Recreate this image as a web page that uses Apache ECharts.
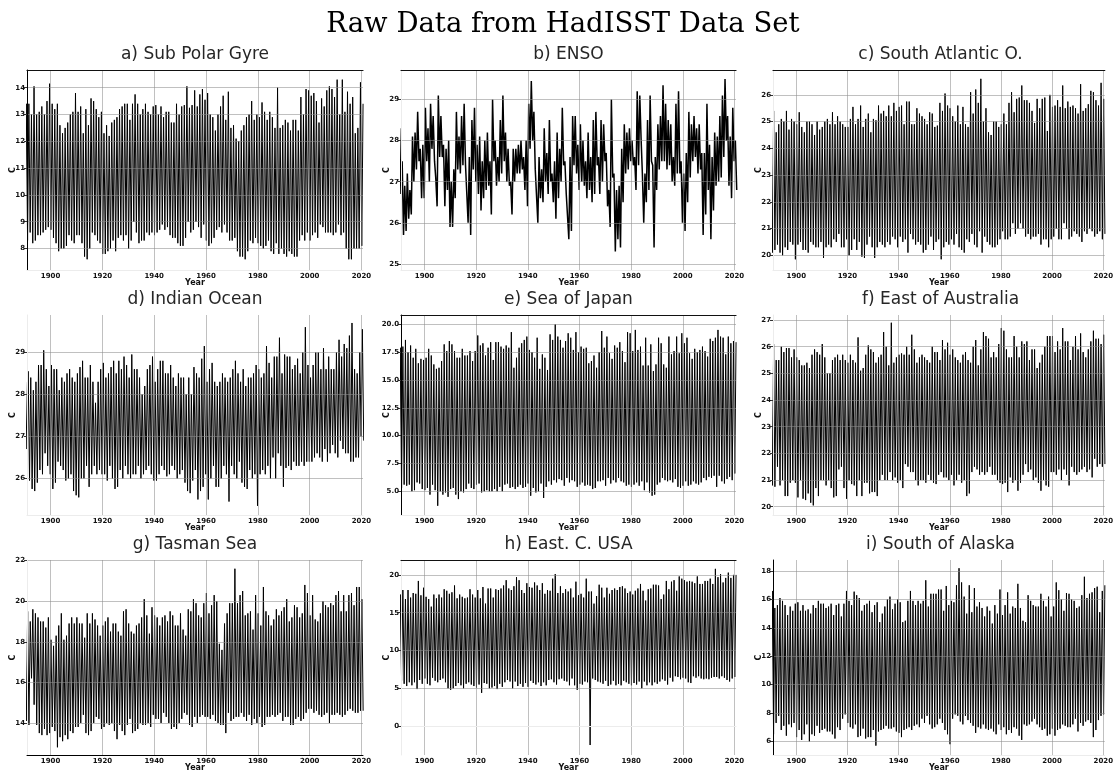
<!DOCTYPE html>
<html>
<head>
<meta charset="utf-8">
<script src="https://cdn.jsdelivr.net/npm/echarts@6/dist/echarts.min.js"></script>
<style>
html,body{margin:0;padding:0;background:#fff;}
#chart{width:1116px;height:773px;}
</style>
</head>
<body>
<div id="chart"></div>
<script>
// ---------- DATA (annual peak / trough values, 1890..2020) ----------
const YEAR0 = 1890;
const xTicks = [1900, 1920, 1940, 1960, 1980, 2000, 2020];

const subPolarHi = [13.4,13.4,13.0,14.05,13.0,13.1,13.3,13.0,13.5,14.15,
13.4,13.2,13.4,12.6,12.3,12.5,12.7,13.0,13.1,13.8,
13.1,13.3,12.3,13.2,12.6,13.6,13.5,13.2,12.9,13.1,
12.3,12.6,12.2,12.7,12.8,12.9,13.2,13.3,13.4,13.4,
12.8,13.4,13.75,13.4,13.0,13.2,13.4,13.1,13.0,13.3,
13.35,13.0,13.3,12.9,13.1,13.1,12.7,12.7,13.4,13.0,
13.3,13.35,14.05,13.25,13.35,13.9,13.3,13.75,13.95,13.55,
13.8,13.0,12.9,12.4,13.0,13.3,13.7,12.8,13.85,12.5,
12.6,12.1,12.0,12.4,12.6,12.9,13.0,13.5,12.8,13.0,
12.9,13.45,13.1,12.8,13.1,12.9,12.5,14.0,12.5,12.6,
12.8,12.7,12.4,12.8,12.8,12.4,13.65,13.0,13.95,13.9,
13.7,13.8,13.5,12.7,13.6,13.3,13.9,14.05,13.95,13.65,
14.3,13.0,14.3,13.1,13.85,13.4,13.65,12.3,12.5,14.2,
13.4];
const subPolarLo = [8.7,8.3,8.6,8.2,8.3,8.5,8.5,8.6,8.7,8.8,
8.7,8.4,8.2,7.9,8.0,8.0,8.1,8.5,8.3,8.2,
8.5,8.5,8.2,7.7,7.6,8.0,8.6,8.5,8.3,8.2,
7.8,7.8,7.9,8.0,8.3,7.9,8.4,8.5,8.3,8.5,
8.0,8.3,9.0,8.6,8.2,8.3,8.3,8.6,8.5,8.6,
8.5,8.6,8.7,8.9,8.7,8.8,8.5,8.4,8.4,8.2,
8.1,8.1,8.4,9.0,8.6,8.7,9.0,8.8,8.4,8.9,
8.3,8.1,8.2,8.4,8.7,8.8,8.6,8.9,8.6,8.3,
8.3,8.4,7.9,7.7,7.7,7.6,7.9,8.3,8.2,8.4,
8.2,8.1,8.0,8.1,8.3,7.9,7.8,8.2,7.8,8.0,
7.8,7.7,7.9,7.8,7.7,7.7,8.3,8.5,8.3,8.6,
8.3,8.5,8.6,8.4,8.9,8.8,8.6,8.6,8.6,8.5,
8.6,8.9,8.5,8.6,8.0,7.6,7.6,8.0,8.0,8.0,
8.1];

const ensoHi = [28.3,27.5,26.9,27.2,26.8,28.1,28.2,28.7,27.8,27.9,
28.8,28.3,28.9,28.6,27.1,29.1,28.6,27.9,27.8,28.0,
27.0,27.3,28.7,28.1,28.6,28.9,27.4,27.6,28.5,28.8,
27.9,28.1,27.5,28.0,28.2,27.5,29.0,28.0,27.6,28.5,
29.1,28.2,27.8,27.0,27.8,27.8,27.9,28.0,27.6,28.0,
28.9,29.45,28.7,27.3,27.6,27.3,28.3,27.7,28.5,27.2,
27.5,28.2,27.8,28.8,27.5,26.7,27.6,28.6,28.6,27.9,
28.4,28.0,27.5,28.2,27.6,28.5,28.7,27.6,28.5,28.4,
27.7,26.8,29.0,27.2,26.8,26.9,27.8,28.4,28.2,28.3,
28.0,27.6,29.2,29.1,27.2,27.2,28.5,29.1,27.4,27.6,
28.4,28.6,29.35,28.9,28.5,28.4,27.6,28.9,29.2,27.5,
27.2,27.7,28.7,28.4,28.6,28.3,28.4,27.7,27.7,28.9,
27.9,27.6,28.2,28.1,28.6,29.1,29.5,28.6,28.1,28.8,
28.0];
const ensoLo = [26.7,25.7,25.8,26.1,26.2,27.0,27.3,27.5,26.6,26.6,
27.5,27.0,27.8,27.5,26.4,27.6,27.6,26.4,26.8,25.9,
25.9,26.6,27.3,27.2,27.4,27.4,26.0,25.7,27.3,27.0,
26.7,26.3,26.6,26.8,26.9,26.2,27.5,26.9,27.0,27.2,
27.5,27.0,26.9,26.2,27.0,27.2,27.2,27.3,26.8,26.4,
27.8,28.0,27.3,26.0,26.6,26.5,27.0,26.7,27.0,26.5,
26.1,26.6,27.0,27.4,26.7,25.6,25.8,27.4,27.2,26.8,
27.0,26.9,26.6,26.8,26.5,26.7,27.4,26.7,27.0,27.5,
26.4,25.9,27.1,25.3,25.6,25.4,26.5,27.2,27.3,27.5,
27.4,26.8,27.4,28.0,26.0,26.5,26.8,27.5,25.4,26.8,
27.3,27.5,27.5,27.3,27.4,27.0,26.9,27.2,27.2,26.0,
25.8,26.5,27.1,27.5,27.6,27.2,27.3,25.7,26.2,26.8,
25.6,26.3,26.9,27.0,27.1,27.6,28.0,26.9,26.6,27.5,
26.8];

const southAtlHi = [25.1,25.4,24.6,24.9,25.1,25.0,25.4,24.7,25.1,25.0,
24.9,25.35,24.8,24.6,25.0,25.0,24.9,24.5,25.0,24.7,
24.8,25.0,25.1,24.9,25.35,24.9,25.2,25.0,24.9,24.8,
24.8,25.1,25.55,24.9,25.1,25.6,24.8,25.1,25.3,24.6,
25.1,25.05,25.6,25.3,25.4,25.2,25.6,25.2,25.7,25.4,
25.55,25.6,24.9,25.75,25.75,24.9,24.9,25.5,25.3,25.2,
25.1,24.9,25.35,25.3,24.8,24.85,25.7,25.4,26.05,25.6,
25.5,25.2,25.0,25.6,24.9,25.55,24.9,24.8,26.1,25.3,
26.2,25.7,26.6,25.0,25.5,24.6,24.5,25.0,25.0,24.8,
24.9,25.3,24.9,25.7,26.1,25.35,25.85,25.9,26.35,25.8,
25.8,25.7,25.4,24.95,25.85,25.5,25.85,25.9,24.65,26.0,
25.55,25.6,25.8,25.55,26.35,25.5,25.75,25.55,25.6,25.5,
25.3,26.4,25.4,25.5,25.65,26.15,26.1,25.8,25.6,26.45,
25.85];
const southAtlLo = [20.1,20.2,20.4,20.1,20.0,20.3,20.2,20.5,20.4,19.85,
20.4,20.5,20.2,20.2,20.1,20.5,20.4,20.3,20.3,20.5,
19.9,20.3,20.4,20.3,20.6,20.5,20.8,20.3,20.3,20.6,
20.0,20.2,20.6,20.2,20.5,19.95,19.9,20.4,20.7,20.3,
19.9,20.3,20.5,20.4,20.3,20.5,20.4,20.7,20.6,20.3,
20.7,20.5,20.6,20.1,20.8,20.6,20.4,20.5,20.4,20.1,
20.2,20.4,20.7,20.2,20.5,20.6,19.85,20.3,20.5,20.4,
20.6,20.4,20.8,20.3,20.2,20.1,20.6,20.5,20.8,20.4,
20.3,20.9,20.1,20.7,20.5,20.4,20.3,20.3,20.4,20.6,
20.9,20.6,20.6,20.7,21.2,20.8,21.0,21.2,21.0,20.7,
20.8,20.6,20.7,20.7,20.8,20.4,20.6,20.6,20.3,20.6,
20.7,21.0,20.6,20.6,21.2,21.0,20.6,20.7,20.9,20.8,
20.7,20.5,20.9,20.8,21.0,20.9,20.7,20.8,20.9,20.6,
20.8];

const indianHi = [28.3,28.55,28.4,28.1,28.3,28.7,28.7,29.05,28.6,28.2,
28.7,28.6,28.6,28.1,28.4,28.3,28.5,28.6,28.4,28.3,
28.5,28.65,28.8,28.4,28.4,28.7,28.3,27.8,28.3,28.6,
28.75,28.4,28.5,28.65,28.8,28.5,28.8,28.6,28.9,28.7,
28.4,28.95,28.6,28.6,28.4,28.0,28.2,28.6,28.7,28.9,
28.3,28.6,28.8,28.8,28.5,28.5,28.7,28.4,28.2,28.5,
28.4,28.4,28.0,28.4,28.0,28.65,28.5,28.4,28.85,29.15,
28.3,28.6,28.75,28.3,28.2,28.3,28.5,28.4,28.3,28.4,
28.6,28.8,28.5,28.3,28.6,28.2,28.4,28.4,28.5,28.7,
28.6,28.4,28.5,29.15,28.75,28.4,28.9,28.9,29.35,28.5,
28.95,28.9,28.9,28.6,28.7,28.85,28.5,29.0,29.6,28.7,
28.4,28.7,29.0,29.0,28.6,29.1,28.6,28.9,28.6,28.6,
29.0,29.3,28.9,29.2,29.1,29.4,29.7,28.6,28.5,29.0,
29.55];
const indianLo = [26.7,25.95,25.75,25.7,25.9,26.2,26.1,26.6,26.3,26.1,
25.75,25.9,26.4,26.3,26.2,25.95,26.0,26.1,25.7,25.6,
25.55,26.0,26.0,26.3,25.8,26.1,26.3,26.1,26.2,26.1,
26.1,25.95,26.3,26.0,25.75,25.8,26.2,26.0,26.3,26.1,
26.0,26.1,26.1,26.3,26.0,26.1,26.2,26.3,26.1,25.95,
25.95,26.1,26.3,26.2,26.05,26.1,26.3,26.2,26.0,26.1,
26.2,25.9,25.7,25.65,25.95,26.2,25.5,25.7,25.8,26.1,
25.5,26.0,26.3,25.8,25.8,26.0,26.3,26.1,25.45,26.3,
26.1,26.0,26.4,25.9,25.8,25.75,26.2,26.0,26.1,25.35,
26.1,26.2,26.1,26.3,26.0,26.5,26.0,26.6,26.3,25.8,
26.25,26.3,26.2,26.4,26.3,26.3,26.4,26.3,26.4,26.4,
26.4,26.5,26.6,26.5,26.4,26.7,26.4,26.6,26.8,26.6,
26.5,26.9,26.7,26.6,26.6,26.4,26.4,26.5,26.5,27.0,
26.9];

const japanHi = [17.9,18.0,18.6,17.5,18.1,17.0,17.8,16.5,16.9,16.8,
17.0,17.8,17.2,16.4,16.0,16.1,16.7,18.2,17.6,18.5,
18.2,17.6,17.0,17.0,17.8,17.2,17.2,17.6,16.7,17.6,
19.0,18.1,18.3,17.2,17.9,18.4,16.8,18.4,18.4,18.0,
17.8,18.1,17.9,19.3,16.1,17.0,17.9,18.3,18.6,18.9,
17.7,17.5,17.0,18.8,16.0,17.3,17.0,15.9,19.1,18.6,
20.0,18.9,18.6,17.9,18.5,19.2,18.8,17.7,19.3,17.5,
18.0,17.8,17.9,16.5,16.7,17.2,16.1,17.5,19.4,17.9,
18.9,17.4,16.9,18.1,17.9,18.4,17.6,16.6,19.3,19.2,
17.6,19.5,17.7,18.0,16.3,18.8,16.3,18.2,15.8,16.4,
18.8,18.3,16.4,16.1,18.9,17.3,17.6,18.9,17.4,19.2,
18.3,18.8,17.4,16.9,17.8,17.5,17.7,18.0,17.6,17.1,
18.7,18.5,18.8,19.5,18.9,18.8,17.3,18.9,18.3,18.5,
18.4];
const japanLo = [5.5,5.3,5.6,5.5,5.6,5.0,5.1,5.8,5.7,5.2,
5.1,5.3,4.7,5.6,5.1,3.7,5.0,4.7,4.9,4.5,
5.2,5.3,4.7,4.3,5.0,4.9,5.2,5.7,5.3,5.2,
5.6,5.7,4.9,5.0,5.1,5.0,5.0,5.2,5.0,5.4,
5.0,5.6,5.7,5.3,5.4,5.2,5.4,5.6,5.3,5.4,
5.7,4.6,5.3,4.9,5.0,5.7,4.4,5.4,5.9,5.6,
6.0,5.8,6.1,6.0,5.5,6.2,5.8,6.0,5.9,5.4,
5.6,5.8,5.5,5.6,5.5,5.2,5.3,5.9,5.9,6.0,
5.5,6.2,5.7,6.0,5.8,6.2,5.9,5.8,5.5,5.6,
5.4,5.6,5.8,5.5,5.9,5.1,5.8,4.9,4.6,4.7,
5.6,5.8,6.2,6.0,5.9,6.0,5.8,6.1,5.4,5.3,
5.5,5.9,5.5,5.6,5.9,5.7,5.6,5.8,6.2,6.0,
6.3,6.2,6.4,5.4,6.4,5.9,5.7,6.1,6.3,6.0,
6.6];

const eastAusHi = [25.7,26.1,25.5,25.5,26.0,25.8,25.95,25.95,25.6,25.9,
25.6,25.5,25.3,25.3,25.4,25.2,25.7,25.9,25.8,25.7,
26.1,25.6,25.0,25.0,25.5,25.6,25.7,25.5,25.7,25.5,
25.4,25.7,25.5,25.4,26.35,25.1,25.2,25.7,26.05,25.9,
25.8,25.4,25.6,25.7,26.55,26.0,25.3,26.9,25.4,25.6,
25.7,25.75,25.7,26.0,25.7,26.45,25.9,25.4,25.6,25.7,
25.6,25.5,25.4,26.0,25.8,25.8,25.5,26.25,25.9,26.15,
25.7,25.9,25.6,25.5,25.4,25.7,25.8,25.5,25.4,26.0,
26.25,25.3,25.9,26.55,26.4,26.3,25.6,25.8,25.6,26.1,
26.7,26.6,25.9,25.6,25.6,26.4,26.0,25.6,26.2,26.1,
26.2,25.5,25.9,25.9,25.2,25.4,25.7,26.0,26.4,26.4,
26.4,25.8,26.2,25.9,26.7,26.2,26.2,25.5,26.0,26.4,
25.9,26.5,25.8,25.6,25.9,26.2,26.6,26.3,26.3,26.1,
26.45];
const eastAusLo = [20.8,20.75,21.5,20.8,21.0,20.4,20.4,20.9,21.0,20.9,
20.35,21.0,20.3,20.25,20.5,20.15,20.05,20.7,20.4,21.0,
21.0,20.8,21.0,20.7,20.35,20.4,21.4,21.5,20.7,20.3,
21.0,20.85,20.8,20.4,21.0,20.4,20.9,20.9,20.5,20.55,
20.55,20.4,21.0,21.2,21.0,21.0,21.3,21.0,21.1,20.9,
21.0,20.7,21.6,21.5,21.3,21.3,21.0,20.8,21.0,21.0,
20.9,21.2,21.0,20.9,20.85,21.2,21.3,21.1,21.1,21.0,
21.2,20.8,21.0,21.2,20.9,21.0,20.4,20.5,21.3,21.5,
21.4,21.2,21.3,21.2,21.3,21.5,21.2,21.2,21.0,20.9,
20.85,20.9,20.55,21.1,20.9,21.0,20.6,20.9,21.2,21.6,
21.3,21.4,21.0,21.1,20.9,20.6,21.0,20.8,20.75,21.3,
21.3,21.2,21.4,21.0,21.4,21.2,20.8,21.5,21.3,21.2,
21.3,21.4,21.5,21.3,21.4,21.1,21.8,21.5,21.6,21.5,
21.6];

const tasmanHi = [18.6,19.5,19.0,19.6,19.4,19.2,19.0,19.0,18.7,19.2,
18.1,17.8,18.3,18.8,19.4,18.1,18.3,18.9,19.2,18.9,
19.2,18.9,18.9,18.2,19.4,18.9,19.4,19.1,18.8,18.3,
18.8,19.0,19.2,18.5,18.9,18.9,18.5,18.3,19.5,19.6,
18.9,18.5,18.4,18.8,18.9,19.2,20.1,19.3,18.4,19.7,
19.3,19.2,18.8,19.2,19.3,19.0,19.5,19.3,18.8,18.8,
19.4,18.6,18.3,19.6,19.5,20.1,19.9,19.3,19.2,19.9,
20.4,19.4,19.8,20.3,20.0,17.9,17.6,18.9,19.4,19.9,
19.9,21.6,19.9,20.3,20.5,19.3,19.4,19.5,18.6,20.3,
19.4,18.8,20.7,19.5,19.3,18.8,19.1,19.6,19.3,19.5,
19.7,20.1,19.0,19.2,19.8,19.7,19.2,19.4,20.8,20.4,
19.3,20.3,19.1,19.0,19.4,20.0,19.8,19.7,19.9,19.8,
20.3,20.5,19.5,20.3,19.5,20.3,20.4,19.8,20.7,20.7,
20.1];
const tasmanLo = [14.1,13.9,16.2,14.9,13.9,13.5,13.4,13.7,13.4,13.5,
13.8,13.6,12.8,13.3,13.1,13.4,13.2,13.6,13.5,13.8,
13.8,14.0,14.4,13.5,13.4,13.6,14.0,14.3,14.2,13.7,
13.8,14.0,13.9,14.0,13.6,13.2,13.9,13.6,13.4,13.9,
14.2,13.5,13.6,13.7,14.0,13.9,13.9,14.0,13.8,14.4,
14.2,14.2,14.0,14.5,14.3,14.0,13.7,13.8,13.7,14.0,
14.2,14.5,14.4,13.9,13.8,14.3,14.0,14.3,14.4,14.3,
14.3,14.2,14.4,14.1,14.0,13.9,13.9,13.5,14.5,14.1,
14.2,14.3,14.3,14.5,14.3,14.1,14.4,13.9,14.2,14.0,
14.3,13.8,13.9,14.3,14.3,14.4,14.3,14.4,14.5,14.1,
14.3,14.3,13.9,13.9,14.2,14.3,14.1,14.2,14.5,14.7,
14.7,14.5,14.6,14.4,14.3,14.4,14.5,14.0,14.4,14.4,
14.5,14.4,14.3,14.4,14.6,14.7,14.6,14.5,14.5,14.6,
14.6];

const eastUsaHi = [17.4,18.0,16.8,18.0,17.0,17.6,17.5,19.2,17.3,18.3,
17.1,16.8,15.8,17.4,16.9,17.4,17.0,18.1,17.9,17.5,
17.7,18.6,16.9,17.4,17.1,16.9,17.0,18.1,17.4,17.0,
18.0,16.9,18.4,16.2,18.2,18.2,17.0,18.1,18.0,18.2,
18.6,19.3,18.2,18.0,18.5,19.7,19.3,18.0,17.6,18.9,
18.4,18.3,19.0,18.6,18.0,18.9,17.5,18.0,17.9,19.5,
20.1,17.6,18.5,17.6,18.1,17.8,18.2,17.0,19.1,17.3,
17.5,17.0,19.5,17.8,17.8,16.2,17.2,18.7,18.3,17.0,
18.3,17.5,18.0,18.2,18.0,18.4,18.5,18.2,17.6,17.8,
17.4,17.9,18.2,18.8,17.9,16.6,18.1,18.2,18.7,18.7,
18.6,16.8,17.4,19.2,18.1,19.1,19.3,17.9,19.8,19.5,
19.3,19.1,19.2,19.1,18.9,19.8,18.8,18.8,19.2,19.2,
19.5,18.8,20.8,19.7,20.1,19.0,19.6,20.3,19.6,20.0,
20.0];
const eastUsaLo = [5.5,6.0,5.6,5.3,5.8,5.4,5.8,4.9,6.1,5.6,
6.3,5.6,5.4,6.4,6.0,5.8,6.1,6.3,5.8,5.0,
4.8,5.0,5.3,5.7,5.4,5.0,5.6,5.8,5.5,5.3,
5.1,5.5,4.4,5.7,5.6,5.0,5.1,5.3,4.9,5.6,
5.2,5.8,6.1,5.9,5.0,5.9,5.3,5.6,5.2,5.7,
5.2,6.0,5.7,5.5,5.8,5.3,5.8,5.4,6.1,6.2,
5.8,5.5,6.2,6.3,6.0,5.9,5.4,6.3,5.4,4.8,
5.6,5.5,5.9,5.8,-2.5,6.3,6.1,5.9,5.8,5.6,
6.0,5.3,5.5,6.0,5.4,5.6,5.4,6.0,5.8,5.6,
5.4,5.7,5.5,5.9,5.0,5.9,5.4,5.8,5.4,5.8,
5.6,5.9,6.2,6.0,5.5,6.4,5.9,6.6,6.5,6.2,
6.4,6.3,5.8,5.7,6.6,6.4,6.6,6.3,6.2,6.3,
6.2,6.4,6.5,6.5,6.3,6.6,6.4,6.1,5.9,6.3,
6.5];

const alaskaHi = [16.6,15.4,15.6,16.1,15.9,15.6,14.9,15.5,15.2,15.7,
15.8,15.2,15.6,15.2,15.3,15.0,15.6,15.4,15.9,15.7,
15.7,15.4,15.5,15.7,14.9,15.6,15.7,14.8,15.7,16.6,
15.9,15.6,16.55,16.3,16.1,15.2,15.6,15.7,15.9,15.1,
15.6,15.8,14.4,15.0,15.5,16.0,16.2,15.3,15.7,16.0,
15.8,14.4,14.5,15.9,16.6,15.9,15.6,15.9,15.7,15.9,
17.35,15.5,16.4,16.4,16.4,16.7,16.7,15.2,16.95,15.6,
15.9,15.8,17.0,18.2,17.2,16.2,15.0,17.0,15.1,16.8,
15.5,15.8,15.4,14.8,15.5,15.2,14.3,15.6,15.0,16.7,
14.9,15.6,16.5,15.0,15.5,15.4,17.1,15.4,14.5,14.4,
16.3,15.9,15.6,15.5,15.5,16.4,15.9,15.5,16.2,14.8,
15.5,17.2,16.65,16.0,15.2,16.45,16.4,16.0,15.9,15.4,
15.5,16.3,17.6,16.1,16.4,16.5,16.8,16.9,15.1,16.6,
17.0];
const alaskaLo = [7.5,6.5,7.3,7.8,6.8,7.1,6.4,7.2,7.0,7.3,
6.3,6.8,6.1,6.5,7.2,6.0,6.5,6.4,7.1,6.6,
6.8,6.9,6.7,6.7,6.5,6.2,7.0,6.8,7.6,7.9,
7.3,7.0,6.9,7.2,6.3,6.4,6.9,6.2,6.3,6.3,
6.8,5.7,6.7,6.8,6.9,7.1,6.9,6.9,7.0,6.7,
6.6,6.3,6.8,6.9,7.0,6.8,7.1,7.2,7.0,7.6,
7.3,7.8,7.2,6.9,7.0,7.2,7.6,7.3,6.8,6.5,
5.8,7.6,7.9,7.8,7.4,7.2,7.8,7.5,7.3,7.1,
6.6,7.0,6.9,7.2,6.9,6.8,6.9,6.7,6.5,7.2,
6.8,7.0,6.5,6.8,6.6,7.0,6.9,6.4,6.1,7.2,
7.1,7.2,7.4,7.6,7.2,7.0,6.8,6.9,6.4,6.5,
6.9,6.4,6.8,6.9,7.2,7.1,7.0,7.0,7.2,7.6,
6.7,7.3,7.1,7.4,7.5,7.3,6.3,6.8,7.5,7.8,
7.9];

// tick labels per panel
const ticksA = [8,9,10,11,12,13,14];
const ticksB = [25,26,27,28,29];
const ticksC = [20,21,22,23,24,25,26];
const ticksD = [26,27,28,29];
const ticksE = [5,7.5,10,12.5,15,17.5,20];
const ticksF = [20,21,22,23,24,25,26,27];
const ticksG = [14,16,18,20,22];
const ticksH = [0,5,10,15,20];
const ticksI = [6,8,10,12,14,16,18];

// month (fraction of year) at which the annual peak / trough occurs
const NH = {hiAt: 0.62, loAt: 0.12};
const SH = {hiAt: 0.15, loAt: 0.65};
const EQ = {hiAt: 0.35, loAt: 0.88};

const panels = [
  {title:'a) Sub Polar Gyre',   hi:subPolarHi, lo:subPolarLo, ph:NH, yMin:7.2,  yMax:14.66, ticks:ticksA, dec:0, left:true,  top:true,  bottom:false, lw:1},
  {title:'b) ENSO',             hi:ensoHi,     lo:ensoLo,     ph:EQ, yMin:24.85,yMax:29.72, ticks:ticksB, dec:0, left:false, top:true,  bottom:false, lw:1.5},
  {title:'c) South Atlantic O.',hi:southAtlHi, lo:southAtlLo, ph:SH, yMin:19.45,yMax:26.93, ticks:ticksC, dec:0, left:false, top:true,  bottom:false, lw:1},
  {title:'d) Indian Ocean',     hi:indianHi,   lo:indianLo,   ph:EQ, yMin:25.13,yMax:29.89, ticks:ticksD, dec:0, left:false, top:false, bottom:false, lw:1},
  {title:'e) Sea of Japan',     hi:japanHi,    lo:japanLo,    ph:NH, yMin:2.87, yMax:20.84, ticks:ticksE, dec:1, left:true,  top:true,  bottom:false, lw:1},
  {title:'f) East of Australia',hi:eastAusHi,  lo:eastAusLo,  ph:SH, yMin:19.69,yMax:27.19, ticks:ticksF, dec:0, left:false, top:false, bottom:false, lw:1},
  {title:'g) Tasman Sea',       hi:tasmanHi,   lo:tasmanLo,   ph:SH, yMin:12.42,yMax:22.03, ticks:ticksG, dec:0, left:false, top:false, bottom:true,  lw:1},
  {title:'h) East. C. USA',     hi:eastUsaHi,  lo:eastUsaLo,  ph:NH, yMin:-3.82,yMax:21.97, ticks:ticksH, dec:0, left:false, top:true,  bottom:false, lw:1},
  {title:'i) South of Alaska',  hi:alaskaHi,   lo:alaskaLo,   ph:NH, yMin:5.04, yMax:18.78, ticks:ticksI, dec:0, left:true,  top:false, bottom:false, lw:1}
];

// ---------- LAYOUT ----------
const colLeft = [27, 401, 773];
const colWidth = [336, 335, 335];
const rowTop = [70, 315, 560];
const plotH = 200;
const X_MIN = 1890.9, X_MAX = 2020.6;

function buildSeriesData(p) {
  const pts = [];
  for (let i = 0; i < p.hi.length; i++) {
    const y = YEAR0 + i;
    const a = [y + p.ph.hiAt, p.hi[i]];
    const b = [y + p.ph.loAt, p.lo[i]];
    if (p.ph.hiAt < p.ph.loAt) { pts.push(a, b); } else { pts.push(b, a); }
  }
  return pts;
}

const grids = [], xAxes = [], yAxes = [], series = [], titles = [];
titles.push({
  text: 'Raw Data from HadISST Data Set',
  left: 563, top: 11, textAlign: 'center', padding: 0,
  textStyle: {fontFamily: 'DejaVu Serif', fontSize: 27.5, fontWeight: 'normal', color: '#000'}
});

panels.forEach((p, k) => {
  const c = k % 3, r = Math.floor(k / 3);
  grids.push({left: colLeft[c], top: rowTop[r], width: colWidth[c], height: plotH});
  titles.push({
    text: p.title, left: colLeft[c] + colWidth[c] / 2, top: rowTop[r] - 24,
    textAlign: 'center', padding: 0,
    textStyle: {fontFamily: 'DejaVu Sans', fontSize: 17, fontWeight: 'normal', color: '#262626'}
  });
  const xIdx = xAxes.length;
  xAxes.push({
    type: 'value', gridIndex: k, min: X_MIN, max: X_MAX, z: 3,
    name: 'Year', nameLocation: 'middle', nameGap: 9, nameMoveOverlap: false,
    nameTextStyle: {fontFamily: 'DejaVu Sans', fontSize: 8, fontWeight: 'bold', color: '#111'},
    axisLine: {show: true, lineStyle: {color: p.bottom ? '#000' : '#ececec', width: 1}},
    axisTick: {show: false, customValues: xTicks},
    axisLabel: {customValues: xTicks, fontFamily: 'DejaVu Sans', fontSize: 7, fontWeight: 'bold', color: '#111', margin: 3,
      formatter: v => String(Math.round(v))},
    splitLine: {show: true, lineStyle: {color: 'rgba(140,140,140,0.55)', width: 1}}
  });
  xAxes.push({
    type: 'value', gridIndex: k, min: X_MIN, max: X_MAX, position: 'top', z: 4,
    axisLine: {show: p.top, lineStyle: {color: '#111', width: 1.2}},
    axisTick: {show: false}, axisLabel: {show: false}, splitLine: {show: false}
  });
  yAxes.push({
    type: 'value', gridIndex: k, min: p.yMin, max: p.yMax, z: 3,
    name: 'C', nameLocation: 'middle', nameGap: 10, nameMoveOverlap: false,
    nameTextStyle: {fontFamily: 'DejaVu Sans', fontSize: 8, fontWeight: 'bold', color: '#111'},
    axisLine: {show: true, lineStyle: {color: p.left ? '#000' : '#ececec', width: 1}},
    axisTick: {show: true, customValues: p.ticks, length: 3, lineStyle: {color: '#333'}},
    axisLabel: {customValues: p.ticks, fontFamily: 'DejaVu Sans', fontSize: 7, fontWeight: 'bold', color: '#111', margin: 2,
      formatter: v => Number(v).toFixed(p.dec)},
    splitLine: {show: true, lineStyle: {color: 'rgba(140,140,140,0.55)', width: 1}}
  });
  series.push({
    type: 'line', xAxisIndex: xIdx, yAxisIndex: k,
    data: buildSeriesData(p), showSymbol: false, symbol: 'none',
    lineStyle: {color: '#000', width: p.lw}, clip: true, animation: false, z: 2
  });
});

const chart = echarts.init(document.getElementById('chart'), null, {renderer: 'canvas'});
chart.setOption({
  backgroundColor: '#fff',
  animation: false,
  title: titles,
  grid: grids,
  xAxis: xAxes,
  yAxis: yAxes,
  series: series
});
</script>
</body>
</html>
